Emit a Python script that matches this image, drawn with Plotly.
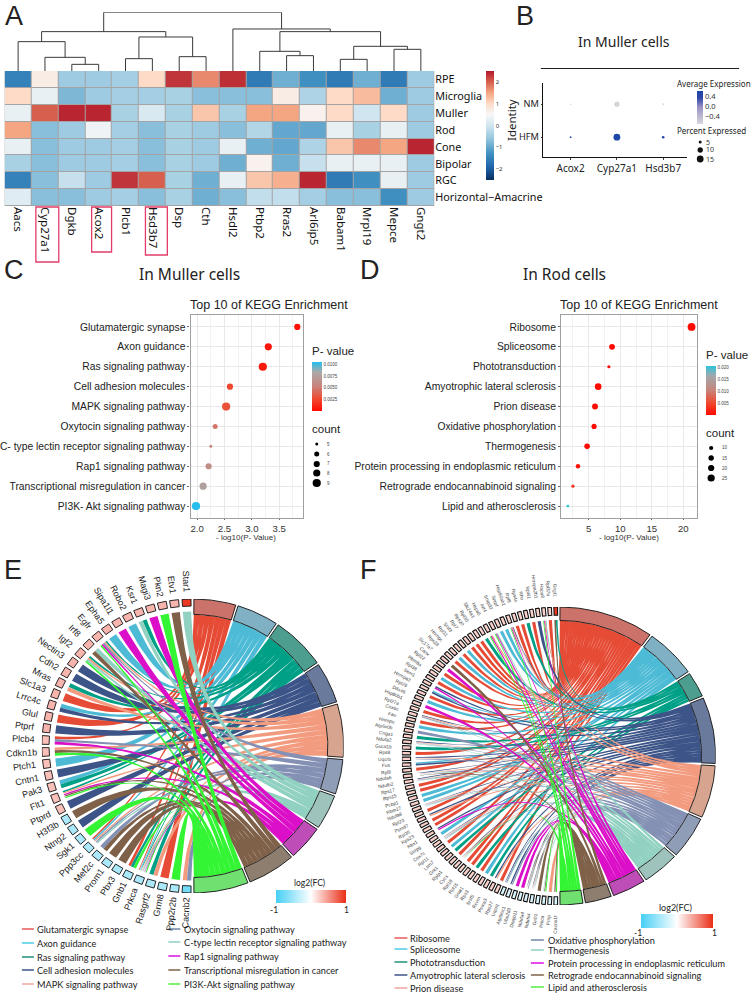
import numpy as np
import plotly.graph_objects as go

W, H = 752, 993
MYR = "Noto Sans"
ARI = "Liberation Sans"
NARROW = "Lato"

# ---------- Panel A ----------
HM_GENES = ["Aacs","Cyp27a1","Dgkb","Acox2","Plcb1","Hsd3b7","Dsp","Cth","Hsdl2","Ptbp2","Rras2","Arl6ip5","Babam1","Mrpl19","Mepce","Gngt2"]
HM_CELLS = ["RPE","Microglia","Muller","Rod","Cone","Bipolar","RGC","Horizontal−Amacrine"]
HM_RPE = [-1.5,0.7,-0.5,-0.5,-0.45,1.0,2.3,1.7,2.35,-1.6,-0.9,-1.3,-1.6,-0.9,-1.6,-0.5]
HM_MIC = [1.0,0.3,-0.8,-0.5,-0.45,-0.45,-0.4,-0.7,-0.7,-0.7,0.7,-0.35,1.0,1.3,-0.9,-0.5]
HM_MUL = [0.3,2.0,2.4,2.4,-0.4,0.1,-0.4,1.2,-0.4,1.5,1.5,0.6,1.0,0.0,1.0,-0.5]
HM_ROD = [1.5,-0.7,-0.5,0.4,-0.45,-0.7,-0.4,-0.5,-0.7,-0.3,-1.0,-1.0,0.3,-0.4,0.3,-0.5]
HM_CON = [0.3,-0.7,-0.5,-0.5,-0.45,-0.7,-0.4,-0.5,0.3,-0.9,-1.0,-0.35,1.2,1.7,1.5,2.4]
HM_BIP = [-0.4,-0.7,-0.5,-0.5,-0.45,-0.7,-0.4,-0.5,-0.9,0.6,-0.9,-0.1,0.3,0.3,0.3,-0.5]
HM_RGC = [-1.5,-0.7,-0.1,-0.5,2.3,2.0,-0.4,-0.9,0.3,1.2,1.4,2.4,-1.6,-1.3,0.3,-0.5]
HM_HA  = [0.2,-0.7,-0.7,-0.5,-0.45,-0.7,-0.4,-0.9,-0.7,-0.15,-0.15,-0.45,-0.7,-0.7,-1.3,-0.5]
DENDRO = (176, (118, (88, 0, (41, 1, (20, 2, 3))), (102, (37, 4, 5), (43, 6, 7))),
               (126, 8, (118, (59, 9, (46, 10, 11)), (74, (35, 12, 13), (65, 14, 15)))))

# ---------- Panel B ----------
B_GENES = ["Acox2","Cyp27a1","Hsd3b7"]
B_GROUPS = ["HFM","NM"]
B_EXPR_NM = [-0.6,-0.7,-0.6]
B_EXPR_HFM = [0.6,0.63,0.6]
B_PCT_NM = [1,7,1.5]
B_PCT_HFM = [2,15,3]
B_PCT_KEYS = [5,10,15]

# ---------- Panels C, D ----------
C_TERMS = ["Glutamatergic synapse","Axon guidance","Ras signaling pathway","Cell adhesion molecules","MAPK signaling pathway",
           "Oxytocin signaling pathway","C- type lectin receptor signaling pathway","Rap1 signaling pathway",
           "Transcriptional misregulation in cancer","PI3K- Akt signaling pathway"]
C_LOGP = [3.83,3.30,3.20,2.60,2.53,2.33,2.25,2.21,2.11,1.98]
C_COUNT = [7,8,9,7,9,6,5,7,8,9]
C_COUNT_KEYS = [5,6,7,8,9]
D_TERMS = ["Ribosome","Spliceosome","Phototransduction","Amyotrophic lateral sclerosis","Prion disease",
           "Oxidative phosphorylation","Thermogenesis","Protein processing in endoplasmic reticulum",
           "Retrograde endocannabinoid signaling","Lipid and atherosclerosis"]
D_LOGP = [21.3,8.7,8.2,6.5,6.0,5.85,4.75,3.3,2.5,1.69]
D_COUNT = [27,18,7,22,18,14,16,11,7,6]
D_COUNT_KEYS = [10,15,20,25]

# ---------- Panel E ----------
E_GENES = ["Star1","Etv1","Pkn2","Magi3","Ksr1","Robo2","Sipa1l1","Epha5","Egfr","Irf8","Igf2","Nectin3","Cdh2","Mras","Slc1a3",
           "Lrrc4c","Glul","Ptprf","Plcb4","Cdkn1b","Ptch1","Cntn1","Pak3","Flt1","Ptprd","H3f3b","Ntng2","Sgk1","Ppp3cc","Mef2c",
           "Prom1","Pbx3","Gnb1","Prkca","Rasgrf2","Grm8","Ppp2r2b","Cacnb2"]
E_LINKS = [[7],[9],[10],[8],[3,7],[2],[8],[2],[3,5,6,8,10],[7,9],[3,5,7,10],[4],[4],[3,5],[1],
           [4,2],[1],[4],[1,6,8],[5,9,10],[2],[4],[2,3],[3,5,8,9,10],[4],[9],[4],[10],[1,2,5,6,7],[6,9],
           [9],[9],[1,3,10],[1,2,3,5,6,7,8,10],[3,5],[1],[10],[5,6]]
E_FC = [0.95,0.35,0.35,0.35,0.35,0.35,0.35,0.35,0.35,0.35,0.35,0.35,0.35,0.35,0.35,0.35,0.35,0.35,0.3,0.3,0.3,0.3,0.3,0.3,0.3,
        -0.45,-0.45,-0.45,-0.45,-0.45,-0.45,-0.45,-0.45,-0.45,-0.45,-0.45,-0.45,-0.75]
E_PATHWAYS = ["Glutamatergic synapse","Axon guidance","Ras signaling pathway","Cell adhesion molecules","MAPK signaling pathway",
              "Oxytocin signaling pathway","C-type lectin receptor signaling pathway","Rap1 signaling pathway",
              "Transcriptional misregulation in cancer","PI3K-Akt signaling pathway"]

# ---------- Panel F ----------
F_GENES = ["Gngt1","Rpl37a","Hspa8","Hnrnpa2b1","Rpl41","Rho","Rps4x","Rpl8","Hsp90ab1","Snrpf","Snrpd2","Atf4","Hspa5","Slc24a1",
           "Rpl30","Rps20","Rpl7","Srsf3","Rpl31","Hnrnpc","Rps28","Slc17a7","Canx","Rpl22","Rbm8a","Rpl38","Sem1","Hnrnpa3","Rpl26",
           "Ddx46","Hsp90b1","Rpl27a","Cox6c","Fau","Hnrnpu","Atp6v0b","Cnga1","Ndufa2","Guca1b","Rps8","Uqcrb","Fus","Rpl9","Ndufa6",
           "Ndufb2","Rps17","Rps15","Pcbp1","Rbm17","Ndufa8","Rpl23","Psmd7","Rpl35","Rps23","Rbx1","Snrpg","Cox7c","Rpl11","Lsm7",
           "Grk1","Rplp1","Cycs","Rpl18","Rpl15","Gnat1","Rps3","Srsf5","Rcvrn","Psma3","Rps27","Uqcrq","Atp5mc1","Ube2d3","Dnajb11",
           "Ndufa4","Ndufs4","Gnb1","Prkca","Prnp","Cacna1f"]
F_LINKS = [[3,9],[1],[2,5,8,10],[4],[1],[3],[1],[1],[4,5,8,10],[2],[2],[7,8,10],[5,8,10],[3],
           [1],[1],[1],[2],[1],[2],[1],[9],[8],[1],[2],[1],[4,8],[2,4],[1],
           [2],[8],[1],[4,5,6,7],[1],[2],[6],[3],[4,5,6,7],[3],[1],[4,5,6],[2,4],[1],[4,5,6,7,9],
           [4,5,6,7],[1],[1],[2],[2],[4,5,6,7],[1],[4,5],[1],[1],[4,8],[2],[4,5,6,7],[1],[2],
           [3],[1],[4,5,6,10],[1],[1],[3],[1],[2],[3],[4,5],[1],[4,6,7],[4,6],[8],[8],
           [4,5,6,7,9],[4,5,6,7,9],[9],[7,9,10],[5],[9,10]]
F_FC = [0.95] + [0.22]*69 + [-0.2]*10
F_PATHWAYS = ["Ribosome","Spliceosome","Phototransduction","Amyotrophic lateral sclerosis","Prion disease",
              "Oxidative phosphorylation","Thermogenesis","Protein processing in endoplasmic reticulum",
              "Retrograde endocannabinoid signaling","Lipid and atherosclerosis"]

RIBBON = ["#E64B35","#4DBBD5","#00A087","#3C5488","#F39B7F","#8491B4","#91D1C2","#DC0FC8","#7E6148","#33F533"]
RING = ["#CB736A","#7FB0C4","#4E9E90","#6A7A9C","#D6A48F","#8F9DB6","#9DC3BC","#BE4DB8","#8E7E70","#70E070"]
KEYS = ["#E8575A","#4DCBE5","#1E8F78","#3C5488","#F0A6A0","#6F86A8","#91D1C2","#DC0FE0","#7E6148","#50EE40"]
FC_SCALE = [[0,"#45CFF5"],[0.5,"#FFFFFF"],[1,"#EA2E17"]]

fig = go.Figure()
annos, shapes = [], []
layout = {}

def dx(a, b): return [a / W, b / W]
def dy(t, b): return [1 - b / H, 1 - t / H]

def txt(x, y, s, size=10, color="#222", anchor="left", angle=0, font=MYR):
    annos.append(dict(x=x / W, y=1 - y / H, xref="paper", yref="paper", text=s, showarrow=False,
                      font=dict(size=size, color=color, family=font), xanchor=anchor, yanchor="middle",
                      textangle=angle, borderpad=0, borderwidth=0))

def hide(d):
    d.update(dict(visible=False, fixedrange=True))
    return d

layout["xaxis8"] = hide(dict(domain=[0, 1], range=[0, W], anchor="y8"))
layout["yaxis8"] = hide(dict(domain=[0, 1], range=[H, 0], anchor="x8"))

# ---------- A ----------
HM = [HM_RPE, HM_MIC, HM_MUL, HM_ROD, HM_CON, HM_BIP, HM_RGC, HM_HA]
hm_scale = [[0,"#053061"],[0.125,"#2166AC"],[0.25,"#4393C3"],[0.375,"#92C5DE"],[0.5,"#D1E5F0"],[0.6,"#F7F7F7"],
            [0.7,"#FDDBC7"],[0.8,"#F4A582"],[0.9,"#D6604D"],[1,"#B2182B"]]
shapes.append(dict(type="rect", xref="paper", yref="paper", x0=1.7/W, x1=433/W, y0=1-206/H, y1=1-71/H,
                   fillcolor="#A4A4A4", line=dict(width=0), layer="below"))
fig.add_trace(go.Heatmap(z=HM, x=HM_GENES, y=HM_CELLS, zmin=-2.5, zmax=2.5, colorscale=hm_scale, xgap=1, ygap=1, hoverinfo="skip",
                         xaxis="x", yaxis="y",
                         colorbar=dict(x=485/W, xanchor="left", y=1-71/H, yanchor="top", len=109, lenmode="pixels", thickness=8,
                                       thicknessmode="pixels", outlinewidth=0, ticks="", tickvals=[-2,-1,0,1,2], xpad=0, ypad=0,
                                       tickfont=dict(size=6, family=MYR, color="#333"))))
layout["xaxis"] = dict(domain=dx(1.7, 433), anchor="y", tickangle=90, ticklen=0, showgrid=False, zeroline=False,
                       tickfont=dict(size=11.5, family=MYR, color="#111"), ticks="")
layout["yaxis"] = dict(domain=dy(71, 206), anchor="x", side="right", autorange="reversed", showgrid=False, zeroline=False,
                       tickfont=dict(size=10.8, family=MYR, color="#111"), ticks="", ticklen=0)

def walk(n, xs, ys):
    if isinstance(n, int):
        return n, 0
    h, a, b = n
    xa, ha = walk(a, xs, ys)
    xb, hb = walk(b, xs, ys)
    xs += [xa, xa, xb, xb, None]
    ys += [ha, h, h, hb, None]
    return (xa + xb) / 2, h
dxs, dys = [], []
walk(DENDRO, dxs, dys)
fig.add_trace(go.Scatter(x=dxs, y=dys, mode="lines", line=dict(color="#3A3A3A", width=1), xaxis="x2", yaxis="y2", hoverinfo="skip", showlegend=False))
layout["xaxis2"] = hide(dict(domain=dx(1.7, 433), range=[-0.5, 15.5], anchor="y2"))
layout["yaxis2"] = hide(dict(domain=dy(12.3, 71), range=[0, 176], anchor="x2"))

for x0, x1, y1 in [(33, 56, 262), (89, 109, 252), (143, 165, 255)]:
    shapes.append(dict(type="rect", xref="paper", yref="paper", x0=x0/W, x1=x1/W, y0=1-y1/H, y1=1-207/H, line=dict(color="#E23C6A", width=1.3)))

# ---------- B ----------
def bsize(p): return list(np.interp(p, [1, 2, 3, 5, 7, 10, 15], [1.3, 1.8, 2.6, 3, 5.3, 5.3, 6.8]))
b_scale = [[0, "#D8D6DC"], [0.5, "#9C94C4"], [0.8, "#2F45A8"], [1, "#1C46A8"]]
fig.add_trace(go.Scatter(x=B_GENES * 2, y=["NM"] * 3 + ["HFM"] * 3, mode="markers", xaxis="x3", yaxis="y3", hoverinfo="skip", showlegend=False,
                         marker=dict(size=bsize(B_PCT_NM + B_PCT_HFM), color=B_EXPR_NM + B_EXPR_HFM, cmin=-0.725, cmax=0.63, line=dict(width=0), opacity=1,
                                     colorscale=b_scale, showscale=True,
                                     colorbar=dict(x=697/W, xanchor="left", y=1-91/H, yanchor="top", len=33, lenmode="pixels", thickness=6,
                                                   thicknessmode="pixels", outlinewidth=0, ticks="", tickvals=[-0.4,0,0.4], ticktext=["−0.4","0.0","0.4"], xpad=0, ypad=0,
                                                   tickfont=dict(size=7.5, family=MYR, color="#333")))))
layout["xaxis3"] = dict(domain=dx(542, 687), range=[-0.6, 2.52], anchor="y3", showline=True, linecolor="#111", linewidth=1.3, ticks="outside", ticklen=2,
                        showgrid=False, zeroline=False, tickfont=dict(size=10, family=MYR, color="#222"), categoryorder="array", categoryarray=B_GENES)
layout["yaxis3"] = dict(domain=dy(83, 157), range=[-0.6, 1.64], anchor="x3", showline=True, linecolor="#111", linewidth=1.3, ticks="outside", ticklen=1,
                        showgrid=False, zeroline=False, tickfont=dict(size=9.2, family=MYR, color="#222"), categoryorder="array", categoryarray=B_GROUPS)
txt(623, 42, "In Muller cells", 14, anchor="center")
shapes.append(dict(type="line", xref="paper", yref="paper", x0=540/W, x1=739/W, y0=1-68.5/H, y1=1-68.5/H, line=dict(color="#222", width=1)))
txt(510, 120, "Identity", 11.5, anchor="center", angle=-90)
txt(677, 83, "Average Expression", 8, font=MYR)
txt(677, 131, "Percent Expressed", 8, font=MYR)
fig.add_trace(go.Scatter(x=[700]*3, y=[142, 150, 159], mode="markers", xaxis="x8", yaxis="y8", hoverinfo="skip", showlegend=False,
                         marker=dict(size=bsize(B_PCT_KEYS), color="#111", line=dict(width=0), opacity=1)))
for yy, p in zip([142, 150, 159], B_PCT_KEYS):
    txt(706, yy, str(p), 7, font=MYR, color="#333")

# ---------- C, D ----------
pv_scale_c = [[0, "#FF0A00"], [0.25, "#EE4A30"], [0.5, "#C9837A"], [0.8, "#A9A9A9"], [1, "#22BFEF"]]
pv_scale_d = [[0, "#FF0A00"], [0.25, "#EE4A30"], [0.5, "#C9837A"], [0.8, "#A0A8AC"], [1, "#2CC5DC"]]
def dia_c(c): return list(np.interp(c, [5, 6, 7, 8, 9], [3, 5, 6.2, 7.2, 8.2]))
def dia_d(c): return list(np.interp(c, [6, 7, 10, 15, 20, 25, 27], [2.8, 3.2, 4.2, 5.4, 6.2, 7.2, 7.8]))

def dot_panel(xa, ya, terms, logp, count, dia, xdom, xr, xticks, minor, scale, cmax, cb_x, cb_top, cb_h, cb_vals, cb_fmt, tfmt):
    p = [10 ** (-v) for v in logp]
    fig.add_trace(go.Scatter(x=logp, y=terms, mode="markers", xaxis=xa, yaxis=ya, hoverinfo="skip", showlegend=False,
                             marker=dict(size=dia(count), color=p, cmin=0, cmax=cmax, colorscale=scale, line=dict(width=0), showscale=True, opacity=1,
                                         colorbar=dict(x=cb_x/W, xanchor="left", y=1-cb_top/H, yanchor="top", len=cb_h, lenmode="pixels", thickness=10,
                                                       thicknessmode="pixels", outlinewidth=0, ticks="", tickvals=cb_vals, tickformat=cb_fmt, xpad=0, ypad=0,
                                                       tickfont=dict(size=4.5, family=ARI, color="#444")))))
    ax = xa.replace("x", "xaxis"); ay = ya.replace("y", "yaxis")
    layout[ax] = dict(domain=dx(*xdom), range=xr, anchor=ya, showline=True, mirror=True, linecolor="#A0A0A0", linewidth=1.2, tickvals=xticks, tickformat=tfmt,
                      ticks="outside", ticklen=1, tickcolor="#666", gridcolor="#E8E8E8", gridwidth=0.8, zeroline=False,
                      minor=dict(tickvals=minor, showgrid=True, gridcolor="#F2F2F2", gridwidth=0.6, ticks=""),
                      tickfont=dict(size=9.6, family=ARI, color="#333"))
    layout[ay] = dict(domain=dy(315, 518), range=[9.6, -0.6], anchor=xa, showline=True, mirror=True, linecolor="#A0A0A0", linewidth=1.2,
                      ticks="outside", ticklen=2, tickcolor="#666", gridcolor="#E8E8E8", gridwidth=0.8, zeroline=False,
                      categoryorder="array", categoryarray=terms, tickfont=dict(size=10.3, family=ARI, color="#222"))

dot_panel("x4", "y4", C_TERMS, C_LOGP, C_COUNT, dia_c, (188.3, 300.7), [1.88, 3.925], [2.0, 2.5, 3.0, 3.5], [2.25, 2.75, 3.25, 3.75],
          pv_scale_c, 0.01057, 310, 361.7, 49.3, [0.0025, 0.005, 0.0075, 0.01], ".4f", ".1f")
dot_panel("x5", "y5", D_TERMS, D_LOGP, D_COUNT, dia_d, (560.3, 697), [0.62, 22.2], [5, 10, 15, 20], [2.5, 7.5, 12.5, 17.5],
          pv_scale_d, 0.0204, 706, 366, 49, [0.005, 0.01, 0.015, 0.02], ".3f", "d")

txt(187, 274, "In Muller cells", 15.5, anchor="center")
txt(564, 274, "In Rod cells", 15.5, anchor="center")
txt(267, 305, "Top 10 of KEGG Enrichment", 12.5, anchor="center", font=ARI)
txt(639, 305, "Top 10 of KEGG Enrichment", 12.5, anchor="center", font=ARI)
txt(244, 537.5, "- log10(P- Value)", 8, anchor="center", font=ARI, color="#333")
txt(629, 537.5, "- log10(P- Value)", 8, anchor="center", font=ARI, color="#333")
txt(310, 351, "P- value", 11.5, font=ARI)
txt(706, 355, "P- value", 11.5, font=ARI)
txt(310, 429, "count", 11.5, font=ARI)
txt(706, 433, "count", 11.5, font=ARI)
c_ys = [444, 454, 464, 473, 483]
d_ys = [448, 458, 468, 478]
fig.add_trace(go.Scatter(x=[315]*5, y=c_ys, mode="markers", xaxis="x8", yaxis="y8", hoverinfo="skip", showlegend=False,
                         marker=dict(size=dia_c(C_COUNT_KEYS), color="#000", line=dict(width=0), opacity=1)))
fig.add_trace(go.Scatter(x=[711]*4, y=d_ys, mode="markers", xaxis="x8", yaxis="y8", hoverinfo="skip", showlegend=False,
                         marker=dict(size=dia_d(D_COUNT_KEYS), color="#000", line=dict(width=0), opacity=1)))
for yy, c in zip(c_ys, C_COUNT_KEYS):
    txt(325, yy, str(c), 4.5, font=ARI, color="#444")
for yy, c in zip(d_ys, D_COUNT_KEYS):
    txt(722, yy, str(c), 4.5, font=ARI, color="#444")

# ---------- Chords ----------
def hex2rgb(h): return np.array([int(h[i:i+2], 16) for i in (1, 3, 5)], float)
def fc_color(v):
    t = (v + 1) / 2
    a, b = (FC_SCALE[0], FC_SCALE[1]) if t <= 0.5 else (FC_SCALE[1], FC_SCALE[2])
    u = (t - a[0]) / (b[0] - a[0])
    c = hex2rgb(a[1]) * (1 - u) + hex2rgb(b[1]) * u
    return "rgb(%d,%d,%d)" % tuple(c)

def pol(theta, r):
    th = np.radians(theta)
    return r * np.sin(th), r * np.cos(th)

def arc(a, b, r, n=12):
    t = np.linspace(a, b, n)
    return pol(t, r)

def bez(p0, p1, n=40):
    t = np.linspace(0, 1, n)
    return (1 - t) ** 2 * p0[0] + t ** 2 * p1[0], (1 - t) ** 2 * p0[1] + t ** 2 * p1[1]

def chord(xa, ya, genes, links, fc, cx, cy, rx, ry, ring_in, box_in, r_gene, gap, fill_frac, lab_size, lab_gap, box_margin, box_lw, lab_color):
    n_p = len(RIBBON)
    counts = [sum(p + 1 in l for l in links) for p in range(n_p)]
    total = sum(counts)
    bound = np.concatenate([[0], np.cumsum(counts)]) / total * 180.0
    sec = [(bound[i] + gap / 2, bound[i + 1] - gap / 2) for i in range(n_p)]
    n = len(genes)
    w = 180.0 / n
    rib = [([], []) for _ in range(n_p)]
    used = [0] * n_p
    sector_pos = {}
    for g, l in enumerate(links):
        for p in l:
            i = p - 1
            sw = (sec[i][1] - sec[i][0]) / counts[i]
            sector_pos[(g, p)] = (sec[i][0] + used[i] * sw + sw * 0.004, sec[i][0] + (used[i] + 1) * sw - sw * 0.004)
            used[i] += 1
    for g, l in enumerate(links):
        hi = 360 - g * w
        c = hi - w / 2
        band = w * fill_frac
        bw = band / len(l)
        top = c + band / 2
        for k, p in enumerate(sorted(l)):
            b_hi = top - k * bw
            b_lo = b_hi - bw
            a0, a1 = sector_pos[(g, p)]
            x1, y1 = arc(a0, a1, ring_in - 0.003)
            xb, yb = arc(b_lo, b_hi, r_gene, 4)
            c1x, c1y = bez((x1[-1], y1[-1]), (xb[0], yb[0]))
            c2x, c2y = bez((xb[-1], yb[-1]), (x1[0], y1[0]))
            rx_, ry_ = rib[p - 1]
            rx_ += list(x1) + list(c1x) + list(xb) + list(c2x) + [None]
            ry_ += list(y1) + list(c1y) + list(yb) + list(c2y) + [None]
    for i in range(n_p):
        fig.add_trace(go.Scatter(x=rib[i][0], y=rib[i][1], mode="lines", fill="toself", fillcolor=RIBBON[i], line=dict(width=0, color=RIBBON[i]),
                                 xaxis=xa, yaxis=ya, hoverinfo="skip", showlegend=False, cliponaxis=False))
    for i in range(n_p):
        xo, yo = arc(sec[i][0], sec[i][1], 1.0, 30)
        xi, yi = arc(sec[i][1], sec[i][0], ring_in, 30)
        fig.add_trace(go.Scatter(x=list(xo) + list(xi) + [xo[0]], y=list(yo) + list(yi) + [yo[0]], mode="lines", fill="toself", fillcolor=RING[i],
                                 line=dict(width=0.9, color="#111"), xaxis=xa, yaxis=ya, hoverinfo="skip", showlegend=False, cliponaxis=False))
    groups = {}
    for g in range(n):
        hi = 360 - g * w
        m = w * box_margin
        xo, yo = arc(hi - m, hi - w + m, 1.0, 4)
        xi, yi = arc(hi - w + m, hi - m, box_in, 4)
        col = fc_color(fc[g])
        X, Y = groups.setdefault(col, ([], []))
        X += list(xo) + list(xi) + [xo[0], None]
        Y += list(yo) + list(yi) + [yo[0], None]
        th = hi - w / 2
        tw = len(genes[g]) * lab_size * 0.5
        rp = lab_gap * (rx + ry) / 2 + tw / 2
        sx, sy = np.sin(np.radians(th)), np.cos(np.radians(th))
        txt(cx + rp * sx * rx / ((rx + ry) / 2), cy - rp * sy * ry / ((rx + ry) / 2), genes[g], lab_size, anchor="center", angle=th - 270, font=ARI, color=lab_color)
    for col, (X, Y) in groups.items():
        fig.add_trace(go.Scatter(x=X, y=Y, mode="lines", fill="toself", fillcolor=col, line=dict(width=box_lw, color="#111"),
                                 xaxis=xa, yaxis=ya, hoverinfo="skip", showlegend=False, cliponaxis=False))
    ax = xa.replace("x", "xaxis"); ay = ya.replace("y", "yaxis")
    layout[ax] = hide(dict(domain=dx(cx - rx, cx + rx), range=[-1, 1], anchor=ya))
    layout[ay] = hide(dict(domain=dy(cy - ry, cy + ry), range=[-1, 1], anchor=xa))

chord("x6", "y6", E_GENES, E_LINKS, E_FC, 190.5, 746, 151.5, 147, 0.895, 0.952, 0.915, 0.9, 0.74, 9, 1.045, 0.14, 0.9, "#222")
chord("x7", "y7", F_GENES, F_LINKS, F_FC, 558, 756, 157.5, 149, 0.91, 0.945, 0.913, 0.9, 0.58, 4.8, 1.075, 0.2, 1.1, "#444")

def fc_bar(x0, x1, y0, y1):
    fig.add_trace(go.Scatter(x=[-50, -50], y=[-50, -50], mode="markers", xaxis="x8", yaxis="y8", hoverinfo="skip", showlegend=False,
                             marker=dict(size=1, color=[-1, 1], cmin=-1, cmax=1, colorscale=FC_SCALE, showscale=True,
                                         colorbar=dict(orientation="h", x=x0/W, xanchor="left", y=1-y0/H, yanchor="top", len=x1-x0, lenmode="pixels",
                                                       thickness=y1-y0, thicknessmode="pixels", outlinewidth=0, ticks="", showticklabels=False, xpad=0, ypad=0))))
fc_bar(274, 344, 890, 903)
fc_bar(641, 713, 914, 928)
txt(308, 883, "log2(FC)", 8.5, anchor="center", font=NARROW)
txt(272, 910, "-1", 8.5, anchor="center", font=NARROW)
txt(345, 910, "1", 8.5, anchor="center", font=NARROW)
txt(675, 907, "log2(FC)", 9, anchor="center", font=NARROW)
txt(638, 933, "-1", 8.5, anchor="center", font=NARROW)
txt(714, 933, "1", 8.5, anchor="center", font=NARROW)

def legend_col(names, colors, kx0, kx1, tx, ys, size):
    for s, c, y in zip(names, colors, ys):
        shapes.append(dict(type="line", xref="paper", yref="paper", x0=kx0/W, x1=kx1/W, y0=1-y/H, y1=1-y/H, line=dict(color=c, width=1.5)))
        txt(tx, y, s, size, font=NARROW, color="#222")

legend_col(E_PATHWAYS[:5], KEYS[:5], 19, 31, 34, [929, 943, 957, 970, 984], 9.2)
legend_col(E_PATHWAYS[5:], KEYS[5:], 166, 178, 182, [929, 942, 956, 970, 984], 9.2)
legend_col(F_PATHWAYS[:5], KEYS[:5], 393, 406, 409, [938, 949, 962, 975, 988], 9.2)
legend_col(F_PATHWAYS[5:], KEYS[5:], 530, 543, 547, [940, 950, 963, 975, 987], 9.2)

for s, x, y in [("A", 2, 16), ("B", 515, 16), ("C", 1, 270), ("D", 358, 270), ("E", 1, 570), ("F", 358, 570)]:
    txt(x, y, s, 27, color="#222", font=ARI)

fig.update_layout(width=W, height=H, margin=dict(l=0, r=0, t=0, b=0), autosize=False, paper_bgcolor="white", plot_bgcolor="rgba(0,0,0,0)",
                  showlegend=False, annotations=annos, shapes=shapes, **layout)
fig.write_html("out.html", config=dict(displayModeBar=False),
               post_script="document.body.style.margin='0';document.body.style.overflow='hidden';")
